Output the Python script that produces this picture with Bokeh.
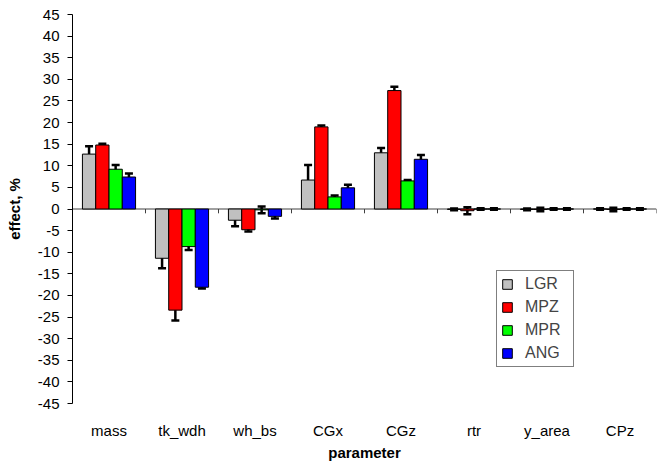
from bokeh.plotting import figure
from bokeh.models import (ColumnDataSource, Range1d, FixedTicker, Whisker, TeeHead,
                          Span, Legend, LegendItem)
from bokeh.embed import file_html
from bokeh.resources import INLINE

categories = ["mass", "tk_wdh", "wh_bs", "CGx", "CGz", "rtr", "y_area", "CPz"]
series_names = ["LGR", "MPZ", "MPR", "ANG"]
LGR = [12.7, -11.4, -2.6, 6.7, 13.0, -0.1, -0.1, 0.0]
LGR_err = [1.8, 2.3, 1.4, 3.5, 1.1, 0.2, 0.2, 0.2]
MPZ = [14.8, -23.4, -4.8, 19.0, 27.4, -0.4, -0.1, -0.1]
MPZ_err = [0.3, 2.4, 0.4, 0.3, 0.9, 0.8, 0.4, 0.4]
MPR = [9.2, -8.7, -0.2, 2.8, 6.5, 0.0, 0.0, 0.0]
MPR_err = [1.0, 0.8, 0.8, 0.3, 0.2, 0.2, 0.2, 0.2]
ANG = [7.4, -18.1, -1.7, 4.9, 11.5, 0.0, 0.0, 0.0]
ANG_err = [0.8, 0.3, 0.5, 0.7, 1.0, 0.2, 0.2, 0.2]
y_ticks = list(range(-45, 50, 5))

values = [LGR, MPZ, MPR, ANG]
errors = [LGR_err, MPZ_err, MPR_err, ANG_err]
colors = ["#C0C0C0", "#FF0000", "#00FF00", "#0000FF"]

FONT = "Liberation Sans"
n = len(categories)
bar_w = 0.182

p = figure(width=658, height=465, output_backend="svg", toolbar_location=None,
           x_range=Range1d(0, n), y_range=Range1d(-45, 45),
           min_border_left=72, min_border_top=14, min_border_right=2, min_border_bottom=62)
p.outline_line_color = None
p.grid.grid_line_color = None
p.background_fill_color = "white"

# zero line with category-boundary ticks
p.add_layout(Span(location=0, dimension="width", line_color="#404040", line_width=1, level="underlay"))
p.segment(x0=list(range(1, n + 1)), y0=[0] * n, x1=list(range(1, n + 1)), y1=[-1] * n,
          line_color="#404040", line_width=1, level="underlay")

items = []
for k, (name, vals, errs, col) in enumerate(zip(series_names, values, errors, colors)):
    xs = [i + 0.5 + (k - 1.5) * bar_w for i in range(n)]
    src = ColumnDataSource(dict(x=xs, top=vals,
                                upper=[v + e for v, e in zip(vals, errs)],
                                lower=[v - e for v, e in zip(vals, errs)]))
    r = p.vbar(x="x", top="top", bottom=0, width=bar_w, source=src,
               fill_color=col, line_color="black", line_width=1)
    items.append(LegendItem(label=name, renderers=[r]))
    w = Whisker(source=src, base="x", upper="upper", lower="lower",
                line_color="black", line_width=2.5,
                upper_head=TeeHead(size=8, line_width=2.5, line_color="black"),
                lower_head=TeeHead(size=8, line_width=2.5, line_color="black"))
    p.add_layout(w)

# y axis
ya = p.yaxis[0]
ya.ticker = FixedTicker(ticks=y_ticks)
ya.major_label_overrides = {t: str(t) for t in y_ticks}
ya.minor_tick_line_color = None
ya.major_tick_in = 0
ya.major_tick_out = 5
ya.axis_line_color = "black"
ya.major_tick_line_color = "black"
ya.major_label_text_font = FONT
ya.major_label_text_font_size = "15px"
ya.major_label_text_color = "black"
ya.major_label_standoff = 8
ya.axis_label = "effect, %"
ya.axis_label_text_font = FONT
ya.axis_label_text_font_style = "bold"
ya.axis_label_text_font_size = "15px"
ya.axis_label_text_color = "black"
ya.axis_label_standoff = 12

# x axis (labels only)
xa = p.xaxis[0]
xa.ticker = FixedTicker(ticks=[i + 0.5 for i in range(n)])
xa.major_label_overrides = {i + 0.5: c for i, c in enumerate(categories)}
xa.axis_line_color = None
xa.major_tick_line_color = None
xa.minor_tick_line_color = None
xa.major_tick_in = 0
xa.major_tick_out = 0
xa.major_label_standoff = 18
xa.major_label_text_font = FONT
xa.major_label_text_font_size = "15px"
xa.major_label_text_color = "black"
xa.axis_label = "parameter"
xa.axis_label_text_font = FONT
xa.axis_label_text_font_style = "bold"
xa.axis_label_text_font_size = "15px"
xa.axis_label_text_color = "black"
xa.axis_label_standoff = 2

legend = Legend(items=items, location=(424, 36), orientation="vertical",
                border_line_color="black", border_line_width=1,
                background_fill_color="white", background_fill_alpha=1,
                label_text_font=FONT, label_text_font_size="16px",
                glyph_width=12, glyph_height=12, label_standoff=12,
                label_height=17, spacing=5, padding=4, margin=0, label_width=44)
p.add_layout(legend)

open("out.html", "w").write(file_html(p, INLINE))
